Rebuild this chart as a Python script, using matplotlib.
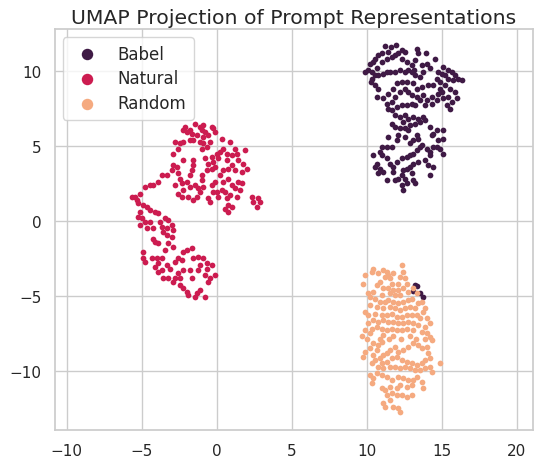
import matplotlib
matplotlib.use("Agg")
import matplotlib.pyplot as plt
import seaborn as sns

# ---- data (UMAP coordinates) ----
babel_x = [11.22, 11.62, 11.93, 12.33, 12.56, 13.33, 13.4, 13.93, 11.44, 11.0, 10.78, 10.56, 10.44, 10.22,
           9.89, 10.11, 10.33, 10.67, 11.0, 11.33, 11.67, 11.89, 12.11, 12.33, 12.67, 13.0, 13.22, 13.18,
           13.67, 14.0, 14.56, 14.22, 13.78, 13.56, 13.22, 13.0, 12.78, 12.56, 12.22, 11.89, 11.56, 11.33,
           11.11, 10.78, 10.56, 10.33, 10.29, 10.56, 10.78, 10.67, 11.11, 11.44, 11.78, 12.0, 12.33, 12.67,
           13.11, 13.33, 13.67, 14.11, 14.44, 14.89, 15.11, 15.44, 15.67, 15.89, 16.11, 16.33, 15.78, 15.44,
           15.22, 15.0, 14.78, 14.67, 14.89, 15.22, 15.56, 15.89, 16.0, 15.67, 15.44, 15.11, 15.0, 14.78,
           14.33, 14.0, 13.78, 13.33, 13.0, 12.78, 12.56, 12.22, 11.89, 11.67, 11.33, 11.44, 11.67, 12.0,
           12.33, 12.67, 13.0, 13.22, 13.56, 13.89, 14.33, 14.67, 15.33, 15.56,
           11.89, 12.22, 12.56, 12.78, 13.11, 13.44, 13.78, 13.89, 13.56, 13.22, 12.89, 12.56, 12.22, 11.89,
           11.67, 12.44, 12.78, 13.33, 13.44, 13.11, 12.89, 12.56, 12.11, 12.0, 11.44, 11.67, 11.33, 11.0,
           10.89, 10.44, 11.0, 11.33, 11.56, 11.78, 12.0, 12.33, 12.67, 12.89, 13.11, 13.33, 13.56, 13.67,
           14.0, 14.22, 14.44, 14.67, 14.89, 15.11, 14.22, 13.89, 14.11, 14.44, 13.44, 13.11, 12.89, 12.67,
           12.44, 12.33, 12.11, 11.89, 12.56, 13.0, 13.11, 11.33, 11.11, 10.89, 10.67, 10.56, 10.78, 11.78,
           14.22, 14.44, 14.67, 15.11, 14.22, 14.33, 15.11, 14.78, 12.33, 12.44, 12.67, 13.22,
           13.22, 13.33, 13.07, 13.56, 13.73]
babel_y = [11.67, 11.6, 11.71, 11.38, 11.27, 11.49, 11.16, 11.16, 11.27, 11.22, 11.09, 10.82, 10.6, 10.49,
           9.93, 10.04, 9.93, 10.16, 10.6, 10.82, 10.93, 11.04, 11.16, 10.82, 10.6, 10.38, 10.71, 10.04,
           10.38, 10.49, 10.82, 10.16, 9.93, 9.6, 9.71, 9.93, 10.04, 9.93, 10.04, 9.93, 9.93, 9.93,
           9.82, 9.71, 9.71, 9.49, 9.27, 9.04, 8.82, 8.27, 8.16, 8.49, 8.82, 9.16, 9.27, 9.27,
           9.16, 8.82, 8.93, 9.04, 9.04, 8.82, 10.27, 10.04, 9.93, 9.71, 9.49, 9.38, 9.38, 9.49,
           9.71, 9.82, 9.93, 9.49, 9.27, 9.04, 8.82, 8.6, 8.16, 7.93, 8.27, 8.16, 8.6, 8.49,
           8.27, 8.04, 8.38, 8.27, 8.38, 8.6, 8.82, 8.6, 8.27, 7.93, 7.82, 7.49, 7.38, 7.6,
           7.71, 7.71, 7.82, 7.71, 8.04, 7.71, 7.82, 8.04, 7.71, 7.49,
           7.04, 6.93, 7.04, 6.82, 6.93, 6.82, 6.93, 6.71, 6.6, 6.49, 6.38, 6.16, 6.16, 6.27,
           6.49, 6.6, 6.04, 5.71, 5.49, 5.38, 5.16, 5.6, 5.71, 5.38, 5.6, 4.93, 4.93, 4.93,
           4.6, 4.38, 4.38, 4.16, 3.82, 3.6, 3.93, 4.16, 4.27, 4.38, 4.49, 4.71, 4.93, 5.04,
           4.82, 4.6, 4.93, 4.93, 4.82, 4.49, 4.38, 4.04, 3.71, 3.6, 3.93, 3.82, 3.6, 3.49,
           3.38, 3.04, 2.82, 2.71, 2.82, 3.16, 2.71, 2.71, 3.27, 3.49, 3.82, 3.6, 3.16, 3.27,
           3.04, 5.82, 6.04, 6.04, 6.27, 5.71, 5.49, 5.38, 2.38, 2.04, 2.49, 2.49,
           -4.29, -4.33, -4.69, -4.78, -5.07]

natural_x = [-2.11, -2.22, -2.0, -1.78, -1.67, -1.44, -1.11, -0.89, -1.0, -0.78, -0.89, -0.56, -0.22, -0.11,
             -0.33, -1.33, -1.56, -1.78, -2.78, -2.44, -2.22, -2.56, -2.89, -1.11, -0.89, -1.0, -0.67, -0.44,
             0.33, 0.89, 0.44, 0.67, 0.22, 0.0, 0.11, -0.33, -0.22, -0.11, -0.33, -0.56, -0.78, -0.67,
             -1.0, -1.56, -1.56, -1.67, -1.78, -2.22, -2.67, -2.89, -3.0, -2.56, -2.44, -2.33, -2.78, -2.0,
             -1.78, -1.44, -1.22, -1.0, -0.89, -1.11, -1.33, -1.56, -1.89, -2.22, -2.33, -2.56, -3.33, -3.67,
             1.22, 1.33, 1.44, 1.78, 2.0, 1.67, 1.22, 1.0, 0.67, 0.78, 0.44, 0.22, 0.44, 0.78,
             1.0, 1.22, 1.44, 1.67, 1.56, 1.33, 0.89, 0.67, 0.56, 0.33, 0.0, 0.11, -0.22, -0.33,
             -0.11, -0.56, -0.44, 0.78, 1.0, 0.56, 0.78, 2.33, 2.44, 2.78, 2.89, 2.67, 1.89, 1.0,
             -3.89, -4.22, -4.44, -4.78, -5.11, -5.44, -5.67, -5.33, -5.22, -4.89, -4.67, -4.44, -4.11, -3.89,
             -5.11, -5.22, -5.0, -4.78, -4.44, -5.11, -4.67, -4.22, -3.78, -3.44, -3.22, -3.67, -3.33, -3.0,
             -2.89, -3.56, -3.33, -3.0, -4.22, -4.11, -3.89, -3.22, -2.89, -3.44, -4.89, -4.89, -4.78, -4.33,
             -4.0, -3.67, -3.89, -4.11, -3.89, -3.67, -3.56, -3.33, -3.11, -2.78, -2.56, -2.33, -2.22, -2.0,
             -1.67, -1.56, -1.22, -0.89, -1.11, -0.67, -0.33, -0.67, -1.22, -0.78, -0.44, -0.11, -0.56, -1.67,
             -1.78, -2.22, -2.56, -2.78, -2.89, -2.44, -2.22, -2.0, -1.89, -1.33, -1.11, -0.78, -1.44, -3.22,
             -2.44]
natural_y = [6.27, 6.04, 5.93, 6.04, 5.82, 6.49, 6.27, 6.38, 6.04, 5.93, 5.6, 5.71, 6.16, 5.93,
             6.27, 5.71, 5.38, 5.38, 5.27, 5.16, 5.27, 4.82, 4.49, 5.27, 5.16, 4.82, 4.93, 5.27,
             5.49, 5.27, 4.82, 4.49, 4.6, 4.49, 4.16, 4.27, 3.93, 3.6, 3.49, 3.82, 4.16, 3.38,
             3.04, 4.04, 3.71, 3.38, 3.04, 4.04, 3.6, 3.71, 3.38, 3.16, 2.82, 2.49, 2.38, 2.6,
             2.27, 2.38, 2.16, 2.71, 2.27, 1.93, 1.6, 1.38, 1.6, 2.04, 1.6, 1.82, 3.04, 3.04,
             4.82, 4.49, 4.04, 3.82, 3.49, 3.27, 3.38, 3.71, 4.04, 3.49, 3.38, 3.04, 2.6, 2.82,
             2.38, 2.16, 2.6, 2.49, 2.04, 1.6, 1.71, 1.49, 1.93, 2.04, 1.93, 1.6, 1.93, 2.38,
             2.6, 1.49, 1.27, 1.04, 0.93, 0.82, 0.6, 1.6, 1.27, 1.49, 1.27, 0.93, 4.71, 4.38,
             2.6, 2.42, 2.38, 2.27, 1.82, 1.6, 1.6, 1.38, 1.16, 1.04, 0.93, 0.71, 0.6, 0.49,
             0.6, 0.27, 0.16, -0.07, -0.07, -0.29, -0.51, -0.51, -0.07, 0.16, 0.04, -0.4, -0.51, -0.29,
             -0.62, -0.73, -0.96, -1.07, -1.18, -1.4, -1.51, -1.51, -1.73, -1.96, -2.07, -2.51, -2.73, -2.51,
             -2.51, -2.51, -2.84, -3.07, -3.4, -3.29, -3.84, -2.96, -3.18, -2.73, -2.51, -2.62, -2.07, -1.96,
             -1.84, -2.51, -2.4, -2.51, -2.96, -2.84, -2.96, -3.18, -3.29, -3.62, -3.84, -3.62, -4.07, -3.84,
             -3.29, -3.29, -3.51, -3.84, -4.07, -4.29, -4.51, -4.73, -4.96, -4.84, -4.62, -5.07, -5.07, -3.84,
             -3.84]

random_x = [10.44, 10.33, 9.89, 9.78, 10.78, 11.11, 11.33, 11.44, 11.22, 11.56, 11.78, 12.33, 12.44, 12.22,
            12.56, 12.67, 12.11, 11.67, 10.89, 10.67, 11.11, 11.44, 11.78, 12.11, 12.44, 12.78, 12.22, 11.89,
            11.56, 11.0, 10.44, 10.11, 10.22, 10.56, 10.89, 11.22, 11.44, 11.78, 12.11, 12.44, 12.78, 13.0,
            13.33, 13.11, 13.44, 13.67, 13.89, 13.78, 13.22, 12.89, 12.56, 12.22, 11.89, 11.56, 11.11, 10.67,
            10.22, 9.89, 10.11, 10.56, 11.0, 11.33, 11.67, 12.0, 12.33, 12.67, 13.0, 13.33, 13.56, 14.0,
            14.22, 13.89, 13.44, 13.11, 12.78, 12.44, 12.11, 11.78, 11.44, 11.11, 10.78, 10.44, 10.11, 9.89,
            10.33, 10.67, 11.0, 11.33, 11.67, 12.0, 12.33, 12.67, 13.11, 13.67, 14.0, 14.22, 10.22, 9.67,
            11.11, 11.78, 12.89,
            10.0, 10.9, 11.5, 12.3, 13.3, 13.9,
            9.78, 9.89, 10.22, 10.44, 10.78, 11.0, 10.67, 10.44, 10.33, 10.56, 10.89, 11.11, 11.33, 11.56,
            11.89, 12.11, 12.44, 12.78, 13.11, 13.44, 13.67, 14.0, 14.33, 14.11, 14.22, 13.89, 13.67, 13.33,
            13.0, 12.67, 12.33, 12.0, 11.67, 11.33, 11.0, 10.78, 11.11, 11.56, 11.89, 12.22, 12.56, 12.89,
            13.22, 13.56, 13.89, 14.33, 14.22, 14.89, 10.22, 10.44, 10.33, 10.67, 11.0, 11.33, 11.67, 12.11,
            12.44, 12.78, 13.11, 13.0, 12.67, 12.22, 12.0, 11.56, 11.22, 11.0, 11.33, 11.67, 12.0, 12.33,
            12.67, 13.0, 13.67, 13.78, 13.33, 11.11, 11.22, 11.56, 11.78, 12.11, 12.22]
random_y = [-3.18, -3.4, -3.62, -4.18, -3.51, -3.29, -3.4, -3.62, -3.73, -3.84, -3.51, -2.96, -3.4, -3.73,
            -3.84, -4.18, -4.18, -4.18, -4.07, -4.29, -4.51, -4.51, -4.62, -4.62, -4.51, -4.73, -4.96, -4.96,
            -4.84, -4.96, -4.73, -4.84, -5.07, -5.18, -5.4, -5.4, -5.29, -5.4, -5.51, -5.4, -5.29, -5.18,
            -4.84, -4.51, -5.51, -5.4, -5.84, -6.07, -5.84, -5.73, -5.84, -5.96, -5.84, -5.73, -5.84, -5.73,
            -5.62, -6.07, -6.29, -6.18, -6.29, -6.29, -6.18, -6.4, -6.4, -6.29, -6.29, -6.29, -6.51, -6.51,
            -6.84, -7.07, -6.96, -6.84, -6.73, -6.84, -6.84, -6.73, -6.73, -6.62, -6.73, -6.62, -6.84, -7.29,
            -7.18, -7.07, -7.18, -7.29, -7.18, -7.29, -7.29, -7.18, -7.29, -7.4, -7.51, -7.73, -7.51, -7.67,
            -7.62, -7.67, -7.67,
            -7.85, -7.9, -7.85, -7.88, -7.9, -7.85,
            -9.07, -8.73, -8.51, -8.18, -8.29, -8.07, -8.62, -8.96, -9.51, -9.29, -9.18, -8.96, -8.84, -8.62,
            -8.4, -8.73, -8.62, -8.4, -8.18, -8.29, -8.51, -8.4, -7.96, -8.84, -9.18, -9.29, -9.51, -9.62,
            -9.51, -9.4, -9.29, -9.07, -9.18, -9.4, -9.51, -9.73, -9.84, -9.73, -9.73, -9.84, -9.73, -9.84,
            -9.96, -9.96, -9.84, -10.07, -9.73, -9.51, -10.29, -10.51, -10.84, -10.18, -10.29, -10.4, -10.62, -10.4,
            -10.51, -10.62, -10.62, -10.96, -11.07, -10.96, -11.18, -11.07, -11.29, -11.18, -11.62, -11.51, -11.62, -11.62,
            -11.73, -11.62, -10.73, -11.18, -10.4, -12.18, -12.4, -11.96, -12.4, -12.51, -12.73]

labels = ["Babel", "Natural", "Random"]
colors = ["#3f1a45", "#cc1c50", "#f5aa80"]

sns.set_theme(style="whitegrid")
plt.rcParams['font.family'] = ['DejaVu Sans']

fig = plt.figure(figsize=(5.37, 4.60), dpi=100)
ax = fig.add_axes([0.102, 0.063, 0.891, 0.872])

series = [(babel_x, babel_y), (natural_x, natural_y), (random_x, random_y)]
for (xs, ys), lab, col in zip(series, labels, colors):
    ax.scatter(xs, ys, s=17, color=col, linewidths=0, label=lab)

ax.set_xlim(-10.8, 21.1)
ax.set_ylim(-13.95, 12.8)
ax.set_xticks([-10, -5, 0, 5, 10, 15, 20])
ax.set_yticks([-10, -5, 0, 5, 10])
ax.tick_params(labelsize=11)
ax.set_title("UMAP Projection of Prompt Representations", fontsize=14.7, pad=4)

leg = ax.legend(loc="upper left", fontsize=12, markerscale=2.0, labelspacing=0.4,
                borderpad=0.45, handletextpad=0.8, frameon=True)
leg.get_frame().set_edgecolor("#cccccc")

fig.savefig("out.png", dpi=100)
